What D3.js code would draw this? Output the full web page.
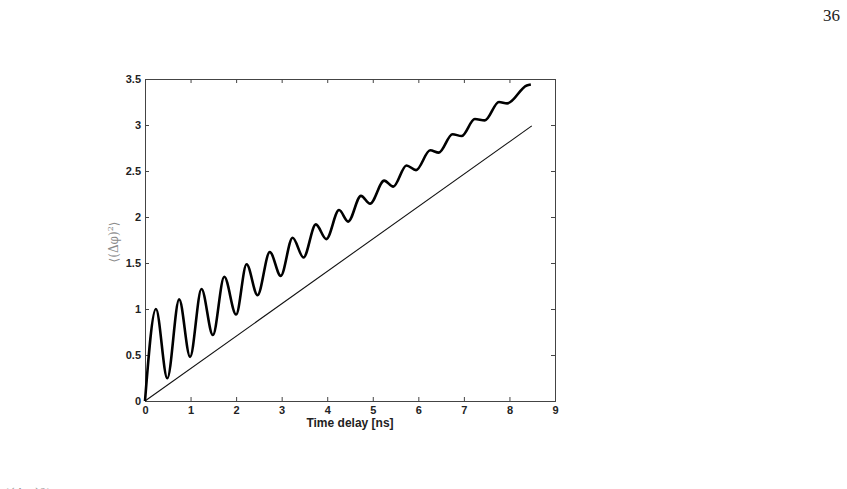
<!DOCTYPE html>
<html>
<head>
<meta charset="utf-8">
<script src="https://cdn.jsdelivr.net/npm/d3@7"></script>
<style>
    body { margin: 0; background: #fff; }
    .tick text { font-family: "Liberation Sans", Arial, sans-serif; font-weight: bold; font-size: 11px; fill: #222; }
</style>
</head>
<body>
<div id="chart"></div>
<script>
// values (time delay in ns)
const xTicks = [0, 1, 2, 3, 4, 5, 6, 7, 8, 9];
const yTicks = [0, 0.5, 1, 1.5, 2, 2.5, 3, 3.5];

// oscillating curve: start, then alternating peaks and troughs
const waveT = [0, 0.24, 0.49, 0.75, 0.99, 1.24, 1.49, 1.74, 2.0, 2.23, 2.47, 2.74, 2.98,
    3.24, 3.48, 3.75, 3.98, 4.26, 4.46, 4.74, 4.94, 5.25, 5.45, 5.74, 5.95,
    6.26, 6.45, 6.75, 6.95, 7.24, 7.46, 7.77, 7.95, 8.38, 8.47];
const waveV = [0, 1.0, 0.247, 1.105, 0.48, 1.217, 0.717, 1.35, 0.94, 1.486, 1.15, 1.62, 1.36,
    1.775, 1.56, 1.92, 1.76, 2.076, 1.95, 2.23, 2.145, 2.395, 2.33, 2.56, 2.51,
    2.725, 2.70, 2.9, 2.88, 3.065, 3.05, 3.25, 3.235, 3.43, 3.44];

// straight reference line
const lineT = [0, 8.49];
const lineV = [0, 2.99];

const W = 847, H = 489;
const margin = { top: 79, right: 292, bottom: 88, left: 145 };
const width = W - margin.left - margin.right;
const height = H - margin.top - margin.bottom;

const svg = d3.select("#chart").append("svg")
    .attr("width", W)
    .attr("height", H);

// page number
svg.append("text")
    .attr("x", 840).attr("y", 21)
    .attr("text-anchor", "end")
    .style("font-family", "'Liberation Serif', 'DejaVu Serif', serif")
    .style("font-size", "17px")
    .style("fill", "#222")
    .text("36");

const g = svg.append("g")
    .attr("transform", `translate(${margin.left}, ${margin.top})`);

const x = d3.scaleLinear().domain([0, 9]).range([0, width]);
const y = d3.scaleLinear().domain([0, 3.5]).range([height, 0]);

const axisColor = "#444";

// inward ticks on all four sides
const axBottom = g.append("g").attr("transform", `translate(0, ${height})`)
    .call(d3.axisBottom(x).tickValues(xTicks).tickSize(-4).tickPadding(5).tickFormat(d3.format("")));
const axTop = g.append("g")
    .call(d3.axisTop(x).tickValues(xTicks).tickSize(-4).tickFormat(""));
const axLeft = g.append("g")
    .call(d3.axisLeft(y).tickValues(yTicks).tickSize(-4).tickPadding(4).tickFormat(d3.format("")));
const axRight = g.append("g").attr("transform", `translate(${width}, 0)`)
    .call(d3.axisRight(y).tickValues(yTicks).tickSize(-4).tickFormat(""));

[axBottom, axTop, axLeft, axRight].forEach(a => {
    a.select(".domain").attr("stroke", axisColor);
    a.selectAll(".tick line").attr("stroke", axisColor);
});

// axis labels
g.append("text")
    .attr("x", width / 2).attr("y", height + 26)
    .attr("text-anchor", "middle")
    .style("font-family", "'Liberation Sans', Arial, sans-serif")
    .style("font-weight", "bold")
    .style("font-size", "12px")
    .style("fill", "#222")
    .text("Time delay [ns]");

const yl = g.append("text")
    .attr("transform", `translate(-27, ${height / 2 + 2}) rotate(-90)`)
    .attr("text-anchor", "middle")
    .style("font-family", "'DejaVu Serif', 'Liberation Serif', serif")
    .style("font-size", "12px")
    .style("fill", "#8a8a8a");
yl.append("tspan").text("⟨(Δφ)");
yl.append("tspan").attr("dy", -5).style("font-size", "8px").text("2");
yl.append("tspan").attr("dy", 5).text("⟩");

// data lines
const wave = waveT.map((t, i) => ({ t: t, v: waveV[i] }));
const ref = lineT.map((t, i) => ({ t: t, v: lineV[i] }));

const lineGen = d3.line()
    .x(d => x(d.t))
    .y(d => y(d.v));

g.append("path")
    .datum(ref)
    .attr("d", lineGen)
    .attr("fill", "none")
    .attr("stroke", "#111")
    .attr("stroke-width", 1.1);

g.append("path")
    .datum(wave)
    .attr("d", lineGen.curve(d3.curveMonotoneX))
    .attr("fill", "none")
    .attr("stroke", "#000")
    .attr("stroke-width", 2.6)
    .attr("stroke-linejoin", "round");

// the next text line of the page, cut off at the bottom edge
svg.append("text")
    .attr("x", 4).attr("y", 499)
    .style("font-family", "'DejaVu Serif', 'Liberation Serif', serif")
    .style("font-size", "14px")
    .style("fill", "#999")
    .text("⟨(Δφ)²⟩");
</script>
</body>
</html>
